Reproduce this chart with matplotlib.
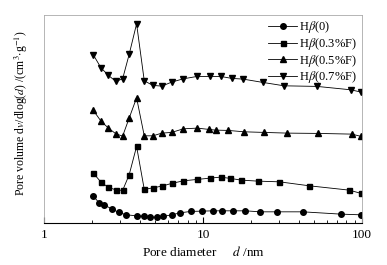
import matplotlib.pyplot as plt
from matplotlib.ticker import LogLocator, NullFormatter

plt.rcParams["font.family"] = "Liberation Serif"
plt.rcParams["mathtext.fontset"] = "stix"

# pore diameter (nm) and pore volume (arbitrary units)
d_0 = [2.04, 2.22, 2.39, 2.67, 2.94, 3.30, 3.82, 4.27, 4.63, 5.10, 5.62, 6.35,
       7.19, 8.36, 9.86, 11.6, 13.2, 15.5, 18.5, 22.9, 29.4, 42.5, 73.7, 99.0]
v_0 = [27.0, 20.3, 18.0, 14.3, 10.7, 8.3, 7.3, 7.0, 6.0, 6.0, 6.7, 8.3,
       10.3, 11.7, 12.0, 12.3, 12.3, 12.3, 12.3, 11.3, 11.3, 11.3, 9.0, 8.3]

d_03 = [2.04, 2.28, 2.54, 2.83, 3.12, 3.43, 3.82, 4.27, 4.84, 5.51, 6.35,
        7.52, 9.21, 11.1, 12.9, 14.9, 17.4, 22.1, 30.3, 46.8, 83.2, 99.0]
v_03 = [50.0, 41.0, 35.7, 33.3, 32.7, 48.3, 76.7, 33.7, 35.3, 37.0, 39.7,
        42.3, 43.7, 45.0, 46.0, 44.7, 43.0, 42.0, 41.3, 37.3, 33.0, 29.7]

d_05 = [2.04, 2.28, 2.54, 2.83, 3.12, 3.43, 3.82, 4.27, 4.84, 5.51, 6.35,
        7.52, 9.21, 10.9, 12.0, 14.4, 18.2, 24.3, 34.0, 53.3, 86.5, 99.0]
v_05 = [112.7, 102.0, 95.0, 89.3, 87.0, 105.0, 125.3, 87.3, 87.3, 90.0, 90.7,
        94.3, 95.0, 93.7, 93.0, 92.7, 91.3, 90.7, 90.0, 89.7, 89.0, 86.7]

d_07 = [2.04, 2.28, 2.54, 2.83, 3.12, 3.43, 3.82, 4.27, 4.84, 5.51, 6.35,
        7.52, 9.21, 11.1, 12.9, 15.2, 17.9, 23.8, 32.4, 52.3, 85.3, 99.0]
v_07 = [168.3, 155.3, 147.7, 141.7, 144.3, 168.7, 199.3, 142.3, 137.7, 137.0,
        141.0, 144.3, 146.7, 146.7, 146.7, 144.7, 144.0, 140.7, 137.3, 136.7,
        133.3, 131.0]

labels = [r"H$\beta$(0)", r"H$\beta$(0.3%F)", r"H$\beta$(0.5%F)",
          r"H$\beta$(0.7%F)"]

fig = plt.figure(figsize=(3.87, 2.65), dpi=100)
ax = fig.add_axes([0.114, 0.158, 0.821, 0.785])

line_kw = dict(color="black", linewidth=0.6, markersize=4)
ax.plot(d_0, v_0, marker="o", label=labels[0], **line_kw)
ax.plot(d_03, v_03, marker="s", label=labels[1], markersize=3.6,
        color="black", linewidth=0.6)
ax.plot(d_05, v_05, marker="^", label=labels[2], **line_kw)
ax.plot(d_07, v_07, marker="v", label=labels[3], **line_kw)

ax.set_xscale("log")
ax.set_xlim(1, 100)
ax.set_ylim(0, 208)
ax.set_yticks([])
ax.xaxis.set_major_locator(LogLocator(base=10))
ax.xaxis.set_minor_locator(LogLocator(base=10, subs=range(2, 10)))
ax.xaxis.set_minor_formatter(NullFormatter())
ax.set_xticks([1, 10, 100])
ax.set_xticklabels(["1", "10", "100"])
ax.tick_params(axis="x", which="both", direction="in", labelsize=9.5,
               pad=4)
ax.tick_params(axis="x", which="major", length=4)
ax.tick_params(axis="x", which="minor", length=2.5)

for side in ["top", "left", "right"]:
    ax.spines[side].set_color("#aaaaaa")
    ax.spines[side].set_linewidth(0.6)
ax.spines["bottom"].set_linewidth(0.8)

ax.set_xlabel(r"Pore diameter     $d$ /nm", fontsize=9.5, labelpad=3)
ax.set_ylabel(r"Pore volume d$v$/dlog($d$) /(cm$^{3}$$\cdot$g$^{-1}$)",
              fontsize=8.5)
ax.yaxis.set_label_coords(-0.044, 0.53)

ax.legend(loc="upper right", bbox_to_anchor=(0.99, 0.985), frameon=False,
          fontsize=9, handlelength=2.3, handletextpad=0.2,
          labelspacing=0.05, borderaxespad=0, borderpad=0.1)

fig.savefig("out.png", dpi=100)
